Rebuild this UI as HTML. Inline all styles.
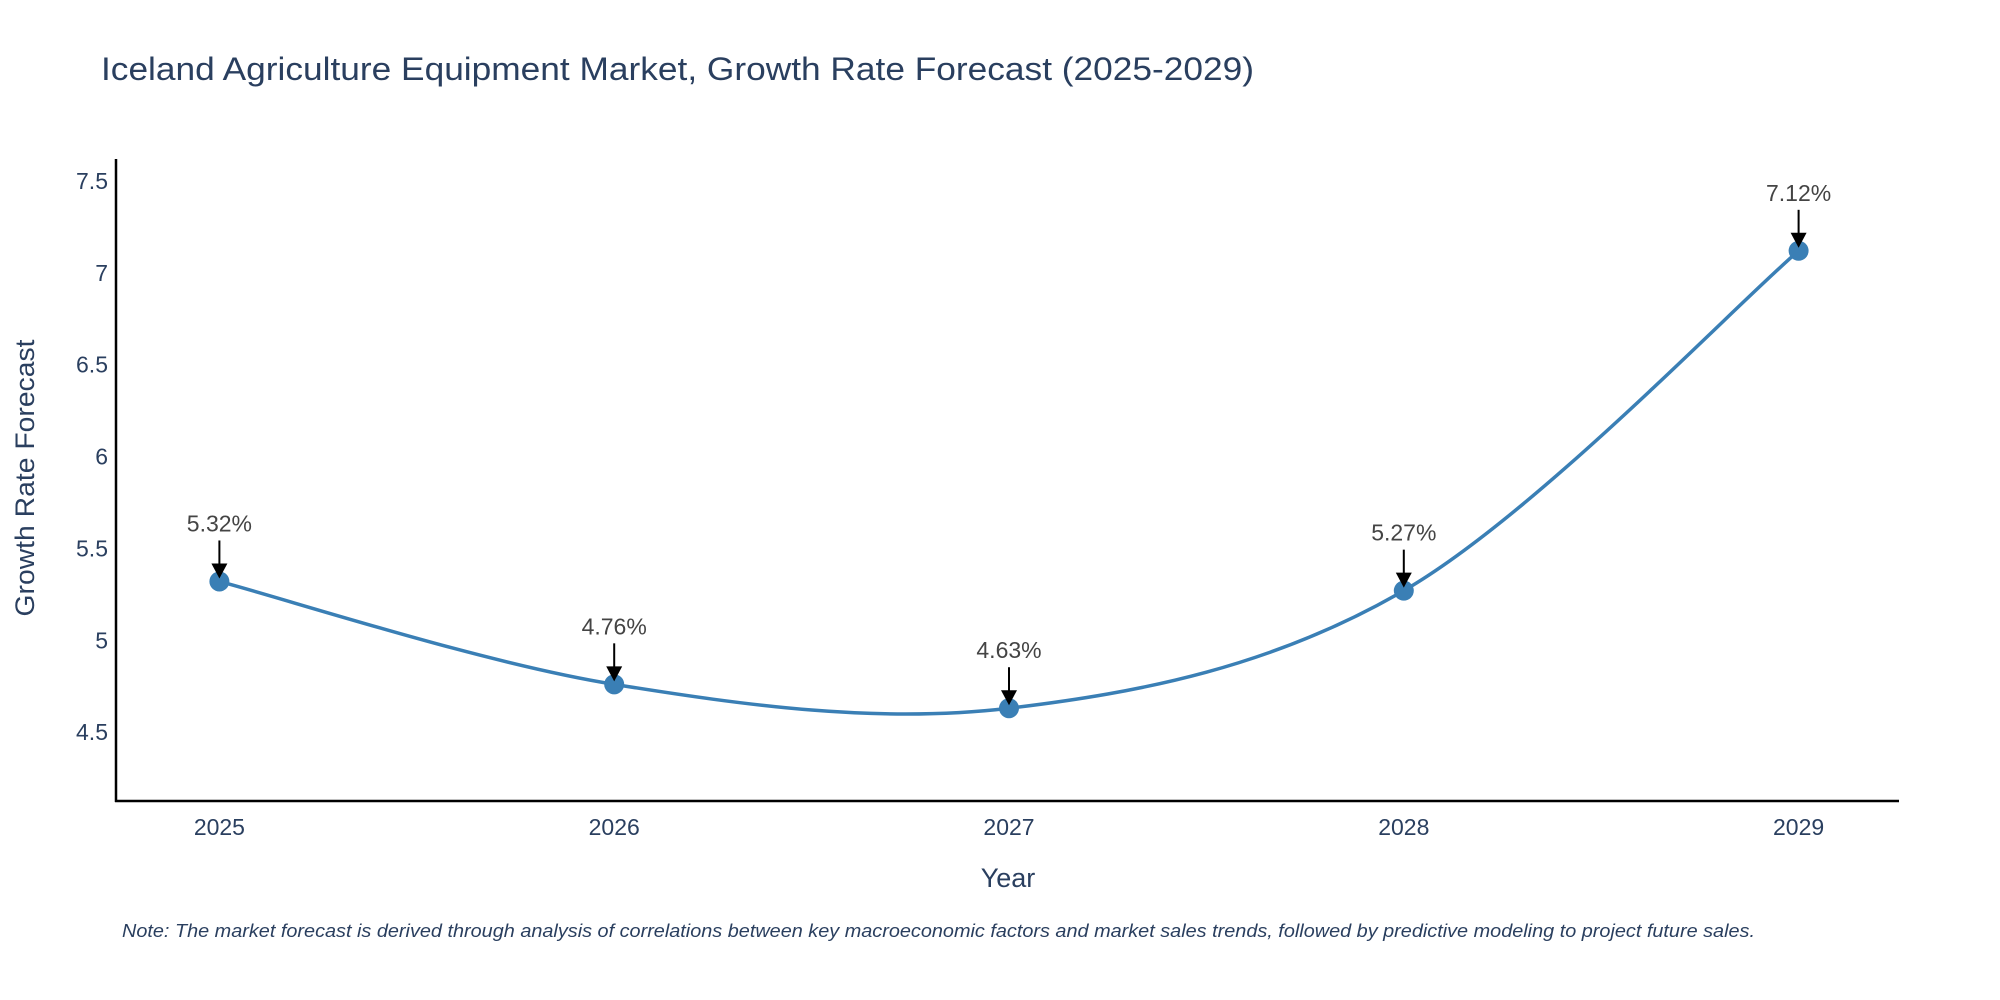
<!DOCTYPE html>
<html><head><meta charset="utf-8"><style>
body{margin:0;background:#fff;}
svg{display:block;font-family:"Liberation Sans",sans-serif;}
</style></head><body>
<svg id="chart" width="2000" height="1000" viewBox="0 0 2000 1000">
<text x="101" y="80" font-size="32" fill="#2a3f5f" textLength="1153" lengthAdjust="spacingAndGlyphs">Iceland Agriculture Equipment Market, Growth Rate Forecast (2025-2029)</text>
<g id="yticks"></g>
<g id="xticks"></g>
<line x1="116" y1="159" x2="116" y2="802" stroke="#000" stroke-width="2.5"/>
<line x1="115" y1="801" x2="1899" y2="801" stroke="#000" stroke-width="2.5"/>
<text x="1008" y="887" font-size="27" fill="#2a3f5f" text-anchor="middle">Year</text>
<text transform="translate(34,478) rotate(-90)" font-size="27" fill="#2a3f5f" text-anchor="middle" textLength="277" lengthAdjust="spacingAndGlyphs">Growth Rate Forecast</text>
<g id="series"></g>
<g id="annots"></g>
<text x="122" y="937" font-size="18" font-style="italic" fill="#2a3f5f" textLength="1633" lengthAdjust="spacingAndGlyphs">Note: The market forecast is derived through analysis of correlations between key macroeconomic factors and market sales trends, followed by predictive modeling to project future sales.</text>
</svg>
<script>
const years = ["2025","2026","2027","2028","2029"];
const values = [5.32, 4.76, 4.63, 5.27, 7.12];
const labels = ["5.32%","4.76%","4.63%","5.27%","7.12%"];
const yTicks = [4.5, 5, 5.5, 6, 6.5, 7, 7.5];
const yTickLabels = ["4.5","5","5.5","6","6.5","7","7.5"];

const NS = "http://www.w3.org/2000/svg";
function xScale(i){ return 219.4 + i*394.8; }
function yScale(v){ return 732.1 - (v-4.5)*183.7; }
function mk(tag, attrs, parent){ const e=document.createElementNS(NS,tag); for(const k in attrs) e.setAttribute(k,attrs[k]); parent.appendChild(e); return e; }

const yg=document.getElementById('yticks');
yTicks.forEach((t,i)=>{
  const el=mk('text',{x:108,y:yScale(t)+8,'font-size':23,fill:'#2a3f5f','text-anchor':'end'},yg);
  
  
  el.textContent=yTickLabels[i];
});
const xg=document.getElementById('xticks');
years.forEach((y,i)=>{
  const el=mk('text',{x:xScale(i),y:835,'font-size':23,fill:'#2a3f5f','text-anchor':'middle'},xg);
  
  
  el.textContent=y;
});

const pts=values.map((v,i)=>[xScale(i),yScale(v)]);
let d=`M${pts[0][0]},${pts[0][1]}`;
for(let i=0;i<pts.length-1;i++){
  const p0=pts[Math.max(0,i-1)],p1=pts[i],p2=pts[i+1],p3=pts[Math.min(pts.length-1,i+2)];
  const c1=[p1[0]+(p2[0]-p0[0])/6,p1[1]+(p2[1]-p0[1])/6];
  const c2=[p2[0]-(p3[0]-p1[0])/6,p2[1]-(p3[1]-p1[1])/6];
  d+=` C${c1[0]},${c1[1]} ${c2[0]},${c2[1]} ${p2[0]},${p2[1]}`;
}
const sg=document.getElementById('series');
const line=mk('path',{d:d,fill:'none',stroke:'#3a7fb5','stroke-width':3.5},sg);


pts.forEach(p=>{
  const c=mk('circle',{cx:p[0],cy:p[1],r:10,fill:'#3a7fb5'},sg);
  
  
});

const ag=document.getElementById('annots');
pts.forEach((p,i)=>{
  const l=mk('line',{x1:p[0],y1:p[1]-41,x2:p[0],y2:p[1]-16,stroke:'#000','stroke-width':2},ag);
  
  
  const h=mk('polygon',{points:`${p[0]-8},${p[1]-18} ${p[0]+8},${p[1]-18} ${p[0]},${p[1]-3}`,fill:'#000'},ag);
  
  
  const t=mk('text',{x:p[0],y:p[1]-50,'font-size':23,fill:'#444','text-anchor':'middle'},ag);
  
  
  t.textContent=labels[i];
});
</script>
</body></html>
